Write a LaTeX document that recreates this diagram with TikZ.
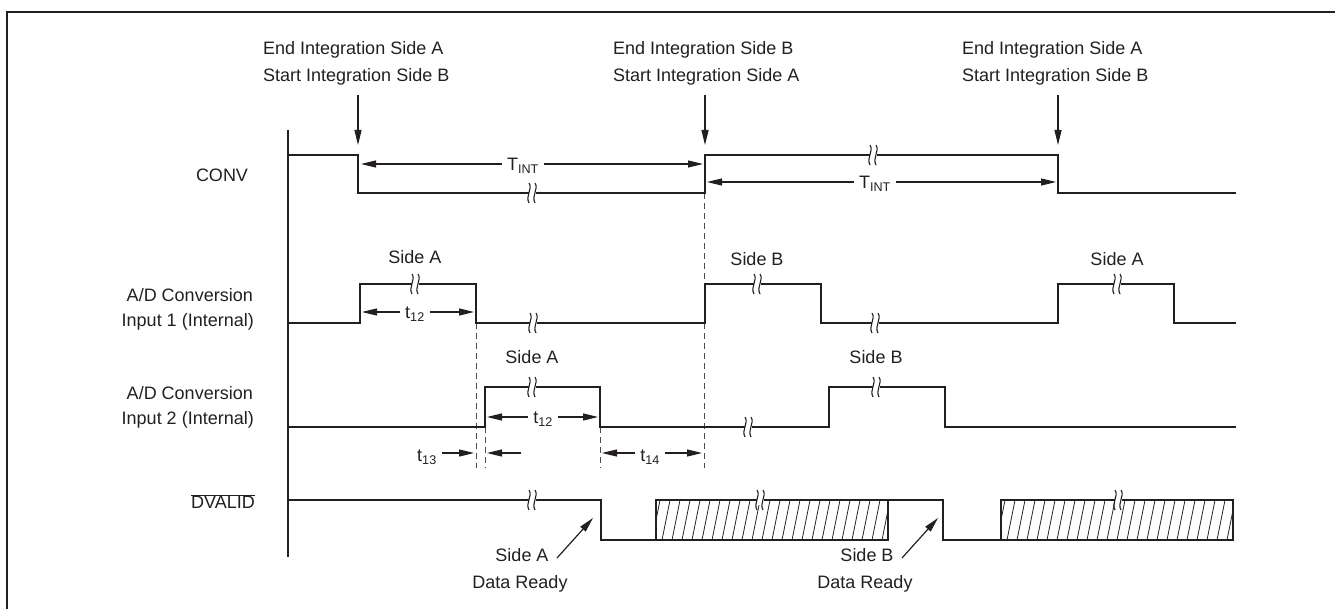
\documentclass[tikz,border=0pt]{standalone}
\usepackage{fontspec}
\setmainfont{Liberation Sans}
\usetikzlibrary{arrows.meta}
\definecolor{ink}{HTML}{231F20}
\begin{document}
\begin{tikzpicture}[x=1pt,y=-1pt,
  sig/.style={line width=2.6pt, line join=miter, draw=ink},
  lbl/.style={inner sep=0pt, text height=13pt, text depth=0pt, font=\fontsize{18}{21}\selectfont, text=ink},
  gap/.style={lbl, inner xsep=5pt},
  arr/.style={line width=1.2pt, draw=ink, -{Triangle[length=15pt,width=7pt]}},
  guide/.style={line width=0.9pt, draw=ink!80, dash pattern=on 6pt off 4pt},
  hatch/.style={line width=0.8pt, draw=ink},
  brk/.pic={
    \fill[white] (-3.5,-5) rectangle (3.5,5);
    \draw[line width=1.1pt, ink] (-3,-10) .. controls (1,-4) and (-7,3) .. (-3,10);
    \draw[line width=1.1pt, ink] (3,-10) .. controls (7,-4) and (-1,3) .. (3,10);
  }]
\useasboundingbox (0,0) rectangle (1335,609);
% frame
\draw[line width=2.4pt, ink] (1345,12) -- (7,12) -- (7,620);

% top labels
\node[lbl, anchor=west] (ta1) at (263,48) {End Integration Side A};
\node[lbl, anchor=west] (ta2) at (263,75) {Start Integration Side B};
\node[lbl, anchor=west] (tb1) at (613,48) {End Integration Side B};
\node[lbl, anchor=west] (tb2) at (613,75) {Start Integration Side A};
\node[lbl, anchor=west] (tc1) at (962,48) {End Integration Side A};
\node[lbl, anchor=west] (tc2) at (962,75) {Start Integration Side B};
\coordinate (ea0) at (358,95); \coordinate (ea1) at (358,145);
\coordinate (eb0) at (705,95); \coordinate (eb1) at (705,145);
\coordinate (ec0) at (1058,95); \coordinate (ec1) at (1058,145);
\draw[arr] (ea0) -- (ea1);
\draw[arr] (eb0) -- (eb1);
\draw[arr] (ec0) -- (ec1);

% left labels
\node[lbl] (conv) at (222,175) {CONV};
\node[lbl, anchor=east] (in1a) at (253,295) {A/D Conversion};
\node[lbl, anchor=east] (in1b) at (254,320) {Input 1 (Internal)};
\node[lbl, anchor=east] (in2a) at (253,393) {A/D Conversion};
\node[lbl, anchor=east] (in2b) at (254,418) {Input 2 (Internal)};
\node[lbl] (dv) at (223,502) {$\overline{\mbox{DVALID}}$};

% axis
\draw[line width=1.3pt, ink] (288,130) -- (288,557);

% dashed guides
\draw[guide] (476,323) -- (476,468);
\draw[guide] (485,427) -- (485,468);
\draw[guide] (600,427) -- (600,468);
\draw[guide] (704,193) -- (704,468);

% hatched boxes
\begin{scope}
\clip (656,500) rectangle (888,540);
\foreach \i in {0,...,25} \draw[hatch] (652+\i*10,540) -- (660+\i*10,500);
\end{scope}
\begin{scope}
\clip (1001,500) rectangle (1233,540);
\foreach \i in {0,...,25} \draw[hatch] (997+\i*10,540) -- (1005+\i*10,500);
\end{scope}

% signals
\draw[sig] (288,155) -- (358,155) -- (358,193) -- (705,193) -- (705,155) -- (1058,155) -- (1058,193) -- (1236,193);
\draw[sig] (288,323) -- (360,323) -- (360,284) -- (476,284) -- (476,323) -- (705,323) -- (705,284) -- (821,284) -- (821,323) -- (1058,323) -- (1058,284) -- (1174,284) -- (1174,323) -- (1236,323);
\draw[sig] (288,427) -- (485,427) -- (485,387) -- (600,387) -- (600,427) -- (829,427) -- (829,387) -- (945,387) -- (945,427) -- (1236,427);
\draw[sig] (288,500) -- (601,500) -- (601,540) -- (656,540);
\draw[sig] (656,540) rectangle (888,500);
\draw[sig] (888,500) -- (943,500) -- (943,540) -- (1001,540);
\draw[sig] (1001,540) rectangle (1233,500);

% break marks
\foreach \p in {(532,193),(873,155),(415,284),(533,323),(757,284),(875,323),(1117,284),(532,387),(748,427),(876,387),(532,500),(760,500),(1118,500)}
  \pic at \p {brk};

% side labels
\node[lbl] (s1) at (415,257) {Side A};
\node[lbl] (s2) at (757,259) {Side B};
\node[lbl] (s3) at (1117,259) {Side A};
\node[lbl] (s4) at (532,357) {Side A};
\node[lbl] (s5) at (876,357) {Side B};

% T_INT
\node[gap] (tint1) at (523,164) {T\textsubscript{INT}};
\coordinate (tint1l) at (361,164); \coordinate (tint1r) at (703,164);
\draw[arr] (tint1.west) -- (tint1l);
\draw[arr] (tint1.east) -- (tint1r);
\node[gap] (tint2) at (875,182) {T\textsubscript{INT}};
\coordinate (tint2l) at (707,182); \coordinate (tint2r) at (1056,182);
\draw[arr] (tint2.west) -- (tint2l);
\draw[arr] (tint2.east) -- (tint2r);

% t12
\node[gap] (ta12) at (415,312) {t\textsubscript{12}};
\coordinate (ta12l) at (362,312); \coordinate (ta12r) at (474,312);
\draw[arr] (ta12.west) -- (ta12l);
\draw[arr] (ta12.east) -- (ta12r);
\node[gap] (tb12) at (543,417) {t\textsubscript{12}};
\coordinate (tb12l) at (487,417); \coordinate (tb12r) at (598,417);
\draw[arr] (tb12.west) -- (tb12l);
\draw[arr] (tb12.east) -- (tb12r);

% t13
\node[gap] (t13) at (427,455) {t\textsubscript{13}};
\coordinate (t13r) at (474,453); \coordinate (t13s) at (521,453); \coordinate (t13l) at (487,453);
\draw[arr] (t13.east |- t13r) -- (t13r);
\draw[arr] (t13s) -- (t13l);

% t14
\node[gap] (t14) at (650,455) {t\textsubscript{14}};
\coordinate (t14l) at (602,453); \coordinate (t14r) at (702,453);
\draw[arr] (t14.west |- t14l) -- (t14l);
\draw[arr] (t14.east |- t14r) -- (t14r);

% data ready
\node[lbl] (dra1) at (522,555) {Side A};
\node[lbl] (dra2) at (520,582) {Data Ready};
\node[lbl] (drb1) at (867,555) {Side B};
\node[lbl] (drb2) at (865,582) {Data Ready};
\coordinate (pa0) at (557,558); \coordinate (pa1) at (593,518);
\coordinate (pb0) at (902,558); \coordinate (pb1) at (938,518);
\draw[arr] (pa0) -- (pa1);
\draw[arr] (pb0) -- (pb1);
\end{tikzpicture}
\end{document}
